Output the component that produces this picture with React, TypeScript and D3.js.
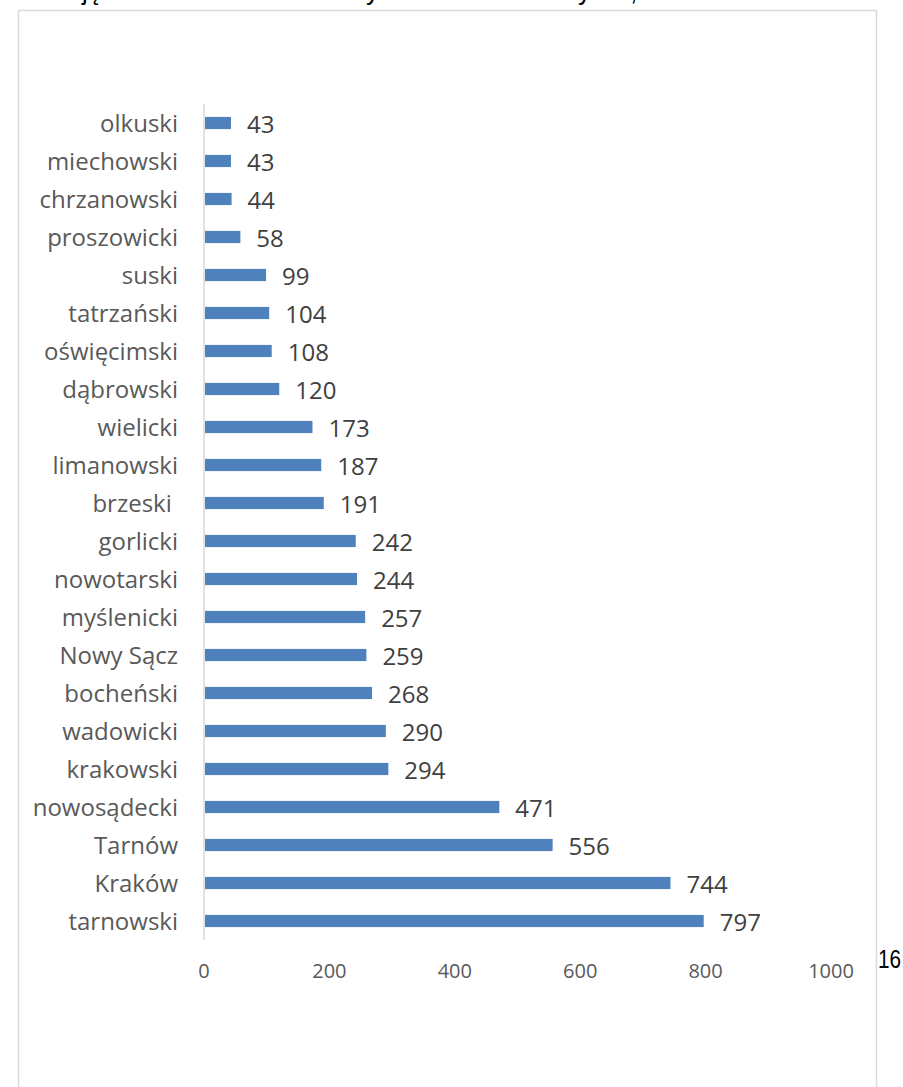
import React from "react";
import * as d3 from "d3";

const categories = [
  "olkuski", "miechowski", "chrzanowski", "proszowicki", "suski", "tatrzański",
  "oświęcimski", "dąbrowski", "wielicki", "limanowski", "brzeski ", "gorlicki",
  "nowotarski", "myślenicki", "Nowy Sącz", "bocheński", "wadowicki", "krakowski",
  "nowosądecki", "Tarnów", "Kraków", "tarnowski",
];
const values = [43, 43, 44, 58, 99, 104, 108, 120, 173, 187, 191, 242, 244, 257, 259, 268, 290, 294, 471, 556, 744, 797];
const xTicks = [0, 200, 400, 600, 800, 1000];
const pageNumber = "16";
const titleFragments = [
  { text: "ję", x: 82 },
  { text: "y", x: 366 },
  { text: "y", x: 578 },
  { text: ",", x: 630 },
];

export default function App() {
  const W = 903, H = 1087;
  const x = d3.scaleLinear().domain([0, 1000]).range([204, 831]);
  const y = d3.scaleBand<string>().domain(categories).range([104, 940]).paddingInner(0.68).paddingOuter(0.34);
  const font = "'Open Sans', sans-serif";
  return (
    <svg width={W} height={H} style={{ position: "absolute", left: 0, top: 0, background: "#fff" }}>
      {titleFragments.map((t, i) => (
        <text key={i} x={t.x} y={0} fontFamily="'Liberation Sans', Arial, sans-serif" fontSize={26} fill="#000">{t.text}</text>
      ))}
      <rect x={18.5} y={10.5} width={858} height={1100} fill="none" stroke="#d9d9d9" strokeWidth={1.5} />
      <line x1={x(0)} x2={x(0)} y1={104} y2={940} stroke="#d9d9d9" strokeWidth={1.5} />
      {categories.map((c, i) => {
        const by = y(c)!;
        const bh = y.bandwidth();
        const cy = by + bh / 2;
        return (
          <g key={c}>
            <rect x={x(0) + 1} y={by} width={x(values[i]) - x(0) - 1} height={bh} fill="#4F81BD" />
            <text x={178} y={cy} dy="0.36em" textAnchor="end" fontFamily={font} fontSize={24} fill="#595959" style={{ whiteSpace: "pre" }}>{c}</text>
            <text x={x(values[i]) + 16} y={cy} dy="0.4em" fontFamily={font} fontSize={24} fill="#404040">{values[i]}</text>
          </g>
        );
      })}
      {xTicks.map((t) => (
        <text key={t} x={x(t)} y={978} textAnchor="middle" fontFamily={font} fontSize={20} fill="#595959">{t}</text>
      ))}
      <text x={878} y={968} fontFamily="'Liberation Sans', Arial, sans-serif" fontSize={25} fill="#000" textLength={23} lengthAdjust="spacingAndGlyphs">{pageNumber}</text>
    </svg>
  );
}
